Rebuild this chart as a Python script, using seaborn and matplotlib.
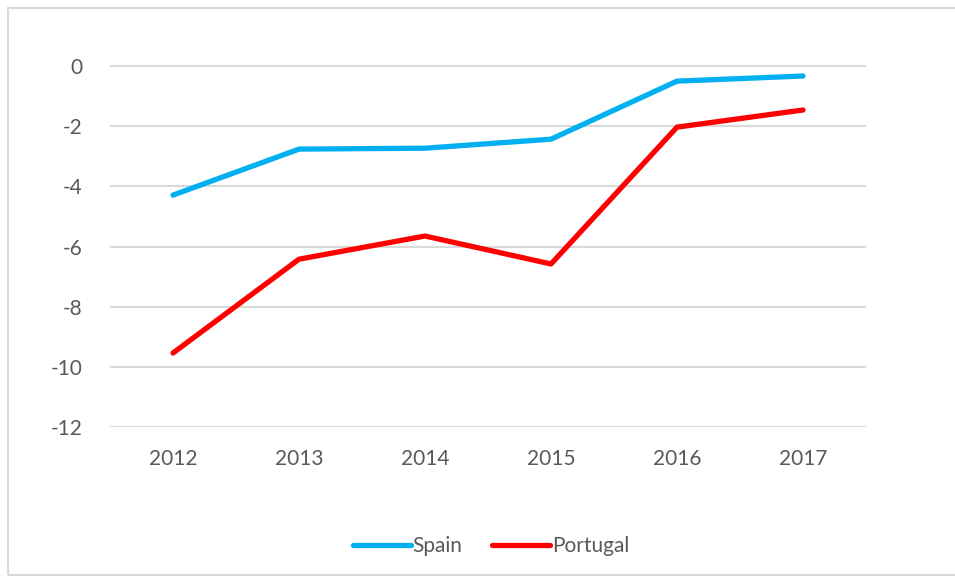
import pandas as pd
import matplotlib.pyplot as plt
import seaborn as sns
from matplotlib.patches import Rectangle
from matplotlib.lines import Line2D

# Values
years = ['2012', '2013', '2014', '2015', '2016', '2017']
spain = [-4.29, -2.76, -2.73, -2.43, -0.50, -0.33]
portugal = [-9.54, -6.42, -5.65, -6.58, -2.03, -1.46]

df = pd.DataFrame({'Year': years * 2,
                   'Value': spain + portugal,
                   'Country': ['Spain'] * len(years) + ['Portugal'] * len(years)})

sns.set_style('white')
plt.rcParams['font.family'] = ['Lato', 'DejaVu Sans']
plt.rcParams['axes.unicode_minus'] = False

fig = plt.figure(figsize=(9.55, 5.8), dpi=100)
ax = fig.add_axes([0.1152, 0.2638, 0.7916, 0.6741])

sns.lineplot(data=df, x='Year', y='Value', hue='Country',
             palette={'Spain': '#00B0F0', 'Portugal': '#FF0000'},
             linewidth=3.8, ax=ax, legend=False, sort=False)
for line in ax.get_lines():
    line.set_solid_capstyle('round')
    line.set_solid_joinstyle('round')

ax.set_xlim(-0.5, 5.5)
ax.set_ylim(-12, 1)
ax.set_yticks(range(-12, 1, 2))
ax.yaxis.grid(True, color='#D9D9D9', linewidth=1.5)
ax.set_axisbelow(True)
for s in ax.spines.values():
    s.set_visible(False)
ax.tick_params(axis='both', length=0, labelsize=15, labelcolor='#595959')
ax.tick_params(axis='y', pad=20)
ax.tick_params(axis='x', pad=16)
ax.set_xlabel('')
ax.set_ylabel('')

# legend
handles = [Line2D([], [], color='#00B0F0', linewidth=3.8, solid_capstyle='round'),
           Line2D([], [], color='#FF0000', linewidth=3.8, solid_capstyle='round')]
fig.legend(handles, ['Spain', 'Portugal'], loc='center', bbox_to_anchor=(0.514, 0.058),
           ncol=2, frameon=False, fontsize=15, labelcolor='#595959',
           handlelength=2.8, handletextpad=0.08, columnspacing=1.4)

# chart border
fig.patches.append(Rectangle((0.008, 0.008), 1.2, 0.978, transform=fig.transFigure,
                             fill=False, edgecolor='#D9D9D9', linewidth=1.5))

fig.savefig('out.png', dpi=100)
